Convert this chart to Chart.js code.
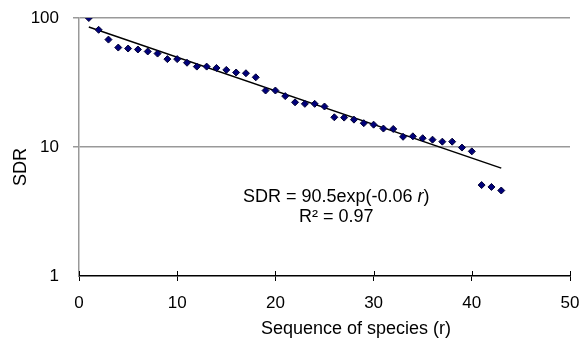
<!DOCTYPE html>
<html>
<head>
<meta charset="utf-8">
<script src="https://cdn.jsdelivr.net/npm/chart.js@4.4.1/dist/chart.umd.min.js"></script>
<style>
  html, body { margin: 0; padding: 0; background: #fff; }
  #wrap { width: 581px; height: 344px; }
</style>
</head>
<body>
<div id="wrap"><canvas id="myChart" width="581" height="344"></canvas></div>
<script>
// species rank and observed SDR
const ranks = [1, 2, 3, 4, 5, 6, 7, 8, 9, 10, 11, 12, 13, 14, 15, 16, 17, 18, 19, 20, 21,
    22, 23, 24, 25, 26, 27, 28, 29, 30, 31, 32, 33, 34, 35, 36, 37, 38, 39, 40, 41, 42, 43];
const sdr = [100, 81, 68, 59, 58, 57, 55, 53, 48, 48, 45, 42, 42, 41, 39.6, 37.8, 37.3, 34.7,
    27.4, 27.4, 24.8, 22.2, 21.6, 21.6, 20.6, 17.0, 16.9, 16.3, 15.3, 14.9, 13.9, 13.8,
    12.0, 12.1, 11.7, 11.4, 11.0, 11.0, 9.9, 9.25, 5.07, 4.9, 4.6];

// fitted trend SDR = 90.5exp(-0.06 r), its two ends
const trendX = [1, 43];
const trendY = [85.2, 6.86];

const yTicks = [1, 10, 100];
const xTicks = [0, 10, 20, 30, 40, 50];

const fontFamily = "'Liberation Sans', Arial, sans-serif";
const fontSize = 18;
const tickSize = 17;

const points = ranks.map((r, i) => ({ x: r, y: sdr[i] }));
const trend = trendX.map((r, i) => ({ x: r, y: trendY[i] }));

const textPlugin = {
    id: "extras",
    afterDraw: (chart) => {
        const { ctx, scales } = chart;
        const xs = scales.x;
        const y0 = xs.top;
        ctx.save();
        // x ticks also poke up into the plot
        ctx.strokeStyle = "#000";
        ctx.lineWidth = 1;
        xTicks.forEach((v) => {
            const px = Math.round(xs.getPixelForValue(v)) + 0.5;
            ctx.beginPath();
            ctx.moveTo(px, y0 - 5);
            ctx.lineTo(px, y0);
            ctx.stroke();
        });
        ctx.fillStyle = "#000";
        ctx.textBaseline = "alphabetic";
        const font = fontSize + "px " + fontFamily;

        // axis titles
        ctx.font = font;
        ctx.textAlign = "center";
        ctx.fillText("Sequence of species (r)", 356, 334);
        ctx.save();
        ctx.translate(26, 167);
        ctx.rotate(-Math.PI / 2);
        ctx.fillText("SDR", 0, 0);
        ctx.restore();

        // equation text
        ctx.textAlign = "left";
        let s = "SDR = 90.5exp(-0.06 ";
        let x = 243;
        ctx.fillText(s, x, 202);
        x += ctx.measureText(s).width;
        ctx.font = "italic " + font;
        ctx.fillText("r", x, 202);
        x += ctx.measureText("r").width;
        ctx.font = font;
        ctx.fillText(")", x, 202);
        ctx.fillText("R\u00B2 = 0.97", 299, 222);
        ctx.restore();
    },
};

new Chart(document.querySelector("#myChart"), {
    type: "scatter",
    data: {
        datasets: [
            {
                label: "SDR",
                data: points,
                pointStyle: "rectRot",
                pointRadius: 3.5,
                pointHoverRadius: 3.5,
                backgroundColor: "#00007a",
                borderColor: "#000033",
                borderWidth: 1,
                order: 1,
            },
            {
                type: "line",
                label: "trend",
                data: trend,
                borderColor: "#000",
                borderWidth: 1.5,
                pointRadius: 0,
                fill: false,
                order: 2,
            },
        ],
    },
    options: {
        responsive: false,
        animation: false,
        layout: { padding: { top: 18, right: 11, bottom: 0, left: 0 } },
        plugins: {
            legend: { display: false },
            tooltip: { enabled: false },
        },
        scales: {
            x: {
                type: "linear",
                min: 0,
                max: 50,
                afterBuildTicks: (scale) => {
                    scale.ticks = xTicks.map((v) => ({ value: v }));
                },
                afterFit: (scale) => {
                    scale.height = 344 - 276;
                    scale.paddingLeft = 0;
                    scale.paddingRight = 0;
                },
                grid: {
                    drawOnChartArea: false,
                    color: "#000",
                    tickLength: 5,
                },
                border: { color: "#000", width: 1.5 },
                ticks: {
                    padding: 12,
                    color: "#000",
                    maxRotation: 0,
                    font: { family: fontFamily, size: tickSize },
                },
            },
            y: {
                type: "logarithmic",
                min: 1,
                max: 100,
                afterBuildTicks: (scale) => {
                    scale.ticks = yTicks.map((v) => ({ value: v }));
                },
                afterFit: (scale) => {
                    scale.width = 79;
                    scale.paddingTop = 0;
                    scale.paddingBottom = 0;
                },
                grid: {
                    color: (c) => (c.tick && c.tick.value === 1 ? "rgba(0,0,0,0)" : "#999"),
                    lineWidth: 1.5,
                    tickLength: 6,
                },
                border: { color: "#999", width: 1.5 },
                ticks: {
                    padding: 14,
                    color: "#000",
                    font: { family: fontFamily, size: tickSize },
                    callback: (v) => String(v),
                },
            },
        },
    },
    plugins: [textPlugin],
});
</script>
</body>
</html>
